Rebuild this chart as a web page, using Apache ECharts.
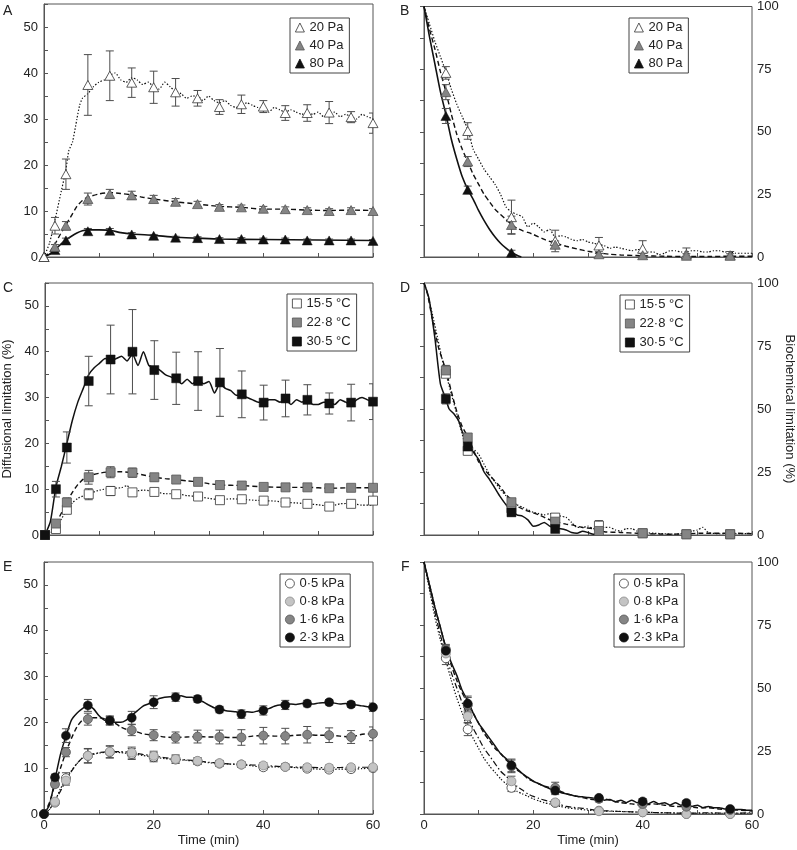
<!DOCTYPE html>
<html><head><meta charset="utf-8">
<script src="https://cdn.jsdelivr.net/npm/echarts@6/dist/echarts.min.js"></script>
<style>html,body{margin:0;padding:0;background:#fff}#c{width:797px;height:850px}</style>
</head><body><div id="c"></div><script>
const FONT = '"Liberation Sans", Arial, Helvetica, sans-serif';

// ---- sampling times (min) ----
const tLeft = [0,2,4,8,12,16,20,24,28,32,36,40,44,48,52,56,60];
const tRight = [4,8,16,24,32,40,48,56];

// ---- Panel A: diffusional limitation, CO2 ----
const a20 = [0,6.8,18.0,37.4,39.4,37.9,36.9,35.8,34.5,32.6,33.2,32.7,31.3,31.3,31.4,30.4,29.1];
const a20Err = [0,1.8,3.3,6.6,5.4,3.2,3.5,3.0,1.7,1.6,2.0,1.3,1.6,1.8,2.4,1.2,2.2];
const a40 = [0,2.2,6.8,12.6,13.7,13.4,12.6,12.0,11.5,10.9,10.8,10.5,10.4,10.2,10.0,10.2,10.0];
const a40Err = [0,0.5,0.9,1.3,1.0,0.9,0.8,0.7,0.6,0.5,0.5,0.5,0.5,0.5,0.5,0.5,0.5];
const a80 = [0,1.5,3.6,5.6,5.7,4.9,4.6,4.2,4.1,3.9,3.9,3.8,3.8,3.6,3.6,3.6,3.5];
const a80Err = [0,0.3,0.5,0.6,0.5,0.4,0.3,0.3,0.3,0.3,0.3,0.3,0.3,0.3,0.3,0.3,0.3];
const a20Line = [[0,0],[1,3],[2,8],[3,13.5],[4,19],[4.5,23],[5.2,25],[6,30],[6.5,33],[7,34.5],[8,35.5],[9,37],[10,38],[11,38.5],[12,39.5],[13,40],[14,38.5],[15,38],[16,39],[17,38.5],[18,37.5],[19,38],[20,37],[21,36.5],[22,38],[23,37],[24,36],[25,35.5],[26,34.5],[27,35],[28,35],[29,34],[30,35],[31,34],[32,33.5],[33,34],[34,33],[35,32.5],[36,33],[37,33.5],[38,33],[39,32.5],[40,32.5],[41,31.5],[42,32.5],[43,32],[44,31.5],[45,32],[46,31.5],[47,31],[48,31.5],[49,31],[50,31.5],[51,30.5],[52,31],[53,31.5],[54,30.5],[55,31],[56,30.5],[57,30],[58,31],[59,30.5],[60,30]];
const a40Line = [[0,0],[1,1],[2,2.8],[3,5],[4,7],[5,9],[6,11],[7,12.3],[8,13],[10,13.7],[12,14],[14,13.8],[16,13.5],[18,13],[20,12.6],[24,12],[28,11.5],[32,11],[36,10.8],[40,10.4],[44,10.4],[48,10.2],[52,10.1],[56,10.2],[60,10.1]];
const a80Line = [[0,0],[1,0.6],[2,1.6],[3,2.7],[4,3.7],[5,4.5],[6,5.2],[7,5.7],[8,5.9],[10,5.9],[12,5.8],[14,5.3],[16,5],[20,4.7],[24,4.3],[28,4.1],[32,3.9],[40,3.8],[50,3.7],[60,3.6]];

// ---- Panel B: biochemical limitation, CO2 ----
const b20 = [73.5,50.3,15.9,6.4,4.6,3.3,1.1,0.7];
const b20Err = [2.5,3.3,6.8,4.3,3.2,3.2,2.5,1.5];
const b40 = [65.8,38.1,12.8,4.9,1.1,0.7,0.5,0.5];
const b40Err = [3,2,3.5,1.5,1,0.8,0.8,0.8];
const b80 = [56.3,26.8,1.7,null,null,null,null,null];
const b80Err = [3,1.5,1,0,0,0,0,0];
const b20Line = [[0,100],[1,93],[2,86],[3,80],[4,74],[5,67],[6,61],[7,56],[8,51],[9,43],[10,39],[11,35],[12,32],[13,29],[14,25],[15,20],[16,18],[17,17],[18,16],[19,12],[20,13.5],[21,12],[22,10],[23,11],[24,8],[25,8.5],[26,8],[27,7],[28,6.5],[29,7],[30,6],[31,5.5],[32,5],[33,4.5],[34,3.5],[35,4],[36,3.5],[37,3],[38,2.5],[39,3],[40,3],[41,2],[42,2],[43,1],[44,1.5],[45,2.5],[46,2.5],[47,2],[48,2],[49,2.5],[50,2.5],[51,2],[52,2],[53,2.5],[54,2.5],[55,2],[56,2],[57,1.5],[58,1.5],[59,1.5],[60,1.5]];
const b40Line = [[0,100],[1,91],[2,83],[3,74],[4,66],[5,57],[6,49],[7,43],[8,38],[9,33],[10,29],[11,25],[12,22],[13,19],[14,17],[15,15],[16,13],[17,11.5],[18,10.5],[19,9.8],[20,9],[22,7],[24,5.5],[26,4.3],[28,3.2],[30,2.3],[32,1.6],[34,1.1],[36,0.8],[40,0.5],[44,0.3],[48,0.2],[52,0.2],[56,0.3],[60,0.3]];
const b80Line = [[0,100],[1,88],[2,77],[3,66],[4,57],[5,47],[6,39],[7,32],[8,27],[9,23],[10,18.5],[11,14.5],[12,11],[13,8],[14,5.5],[15,3.5],[16,1.8],[17,0.7],[17.8,0]];

// ---- Panel C: diffusional limitation, temperature ----
const c15 = [0,1.3,5.5,8.9,9.6,9.3,9.4,8.9,8.4,7.6,7.8,7.5,7.1,6.8,6.2,6.8,7.5];
const c15Err = [0,0.5,0.8,1.2,1.0,0.8,0.8,0.7,0.6,0.5,0.5,0.5,0.5,0.5,0.5,0.5,0.5];
const c22 = [0,2.5,7.1,12.6,13.7,13.6,12.6,12.1,11.6,10.9,10.8,10.5,10.4,10.4,10.2,10.3,10.3];
const c22Err = [0,0.6,1.0,1.5,1.2,1.0,0.8,0.7,0.6,0.5,0.5,0.5,0.5,0.5,0.5,0.5,0.5];
const c30 = [0,10.0,19.1,33.6,38.3,40.0,36.0,34.2,33.6,33.3,30.7,28.9,29.8,29.5,28.7,28.9,29.1];
const c30Err = [0,1.7,3.4,5.4,7.5,9.2,6.4,5.7,6.4,7.4,5.1,3.8,4.0,3.3,2.3,4.0,3.9];
const c30Line = [[0,0],[1,3],[2,10.5],[3,15],[4,20],[5,25],[6,29],[7,32],[8,35],[9,36.5],[10,37.5],[11,38.5],[12,38],[13,38.5],[14,39],[15,38],[16,39.5],[17,37],[18,40],[19,37],[20,36.5],[21,36],[22,35],[23,34.5],[24,34],[25,33],[26,34],[27,33],[28,34],[29,33],[30,33.5],[31,31],[32,33],[33,32],[34,31.5],[35,30.5],[36,30.5],[37,30],[38,29.5],[39,29],[40,29],[41,29.5],[42,29.5],[43,29],[44,29.5],[45,28.5],[46,29.5],[47,29],[48,29.5],[49,28.5],[50,28.5],[51,29],[52,29],[53,28.5],[54,29.5],[55,29],[56,28.5],[57,29.5],[58,30],[59,29.5],[60,29]];
const c22Line = [[0,0],[1,0.8],[2,2.5],[3,4.8],[4,7.2],[5,9.3],[6,11],[7,12.2],[8,12.9],[10,13.5],[12,13.8],[14,13.8],[16,13.6],[18,13.1],[20,12.6],[22,12.3],[24,12.1],[26,11.8],[28,11.6],[30,11.2],[32,10.9],[36,10.8],[40,10.5],[44,10.4],[48,10.4],[52,10.2],[56,10.3],[60,10.3]];
const c15Line = [[0,0],[1,0.5],[2,1.5],[3,3.5],[4,5.5],[5,7],[6,8],[8,9],[10,9.8],[12,10.2],[14,10.3],[15,10.8],[16,9.5],[18,9.8],[20,9.5],[22,9],[24,9],[26,8.6],[28,8.4],[30,8],[32,7.7],[34,7.9],[36,7.8],[38,7.6],[40,7.5],[42,7.4],[44,7.1],[46,7],[48,6.8],[50,6.6],[52,6.3],[54,6.8],[56,6.9],[58,6.5],[60,6.5]];

// ---- Panel D: biochemical limitation, temperature ----
const d15 = [64,33.4,10.6,6.9,3.7,0.7,0.3,0.3];
const d15Err = [1.5,1.5,1.5,1.5,2,0.5,0.5,0.5];
const d22 = [65.3,38.7,13.0,5.3,1.6,0.7,0.3,0.3];
const d22Err = [2,1.5,1.5,1.2,1,1,0.8,1.5];
const d30 = [54.0,35.1,9.0,2.4,null,null,null,null];
const d30Err = [2,2,1.5,1,0,0,0,0];
const d30Line = [[0,100],[0.9,94],[2,78],[3,60],[4,54],[4.6,50],[5.5,48],[6.4,45],[7,41],[8,37],[9,33],[10,30],[11,25],[12,22],[13,18.5],[14,15],[15,12],[16,10],[17,8],[18,7.5],[19,6],[20,3.5],[21,4],[22,5],[23,3.5],[24,2.6],[25,2.5],[26,2],[27,1],[28,0.7],[29,1.5],[30,1],[31,0.3],[32,0.3]];
const d22Line = [[0,100],[0.5,97],[1.5,86],[2.7,74],[4,65.5],[5,57],[6,49],[7,43],[8,39],[9,34],[10,29],[11,26],[12.5,22.5],[14,19],[15,16],[16,14],[17.4,11],[19,9.5],[21,8],[22.5,6.5],[24,5.3],[26,4.3],[27,4],[29,3],[31,2.5],[33,1.3],[36,1],[39,0.7],[45,0.3],[51,0.7],[57,0.7],[60,0.5]];
const d15Line = [[0,100],[0.5,97],[1.5,88],[2.5,78],[3.5,68],[4,64],[5,56],[6,48],[7,40],[8,33],[9,34],[10,32],[11,28],[12,24],[13,21],[14,18],[15,15.5],[16,13],[17,12],[18,11],[19,10],[20,9],[21,8.5],[22,8],[23,8.5],[24,8],[25,7.5],[26,7],[27,5],[28,3],[29,3],[30,3.5],[31,2.5],[32,2.5],[33,3],[34,3],[35,2],[36,1.5],[37,2.5],[38,2.5],[39,1.5],[40,1],[42,0.7],[44,0.5],[46,0.3],[48,1],[49,1.5],[50,2],[51,3],[52,1],[54,0.5],[56,0.5],[58,0.5],[60,0.7]];

// ---- Panel E: diffusional limitation, VPD ----
const e05 = [0,2.5,7.8,12.7,13.5,13.1,12.4,11.9,11.5,11.0,10.8,10.2,10.3,9.9,9.7,9.8,10.0];
const e05Err = [0,0.5,1.2,1.5,1.3,1.2,1.0,0.8,0.7,0.6,0.6,0.6,0.6,0.6,0.6,0.6,0.6];
const e08 = [0,2.7,7.3,12.7,13.6,13.4,12.7,12.0,11.6,11.1,10.8,10.6,10.3,10.2,10.1,10.2,10.2];
const e08Err = [0,0.5,1.0,1.6,1.3,1.2,1.0,0.9,0.7,0.6,0.6,0.6,0.6,0.6,0.6,0.6,0.6];
const e16 = [0,6.5,13.5,20.7,20.4,18.3,17.2,16.7,16.9,16.8,16.7,17.1,17.0,17.3,17.2,16.8,17.5];
const e16Err = [0,0.6,1.0,1.3,1.0,1.2,1.2,1.2,1.4,1.5,1.7,1.8,1.7,1.8,1.6,1.4,1.5];
const e23 = [0,8.0,17.1,23.7,20.4,21.0,24.4,25.5,25.1,22.8,21.8,22.6,23.8,24.1,24.4,23.9,23.3];
const e23Err = [0,0.7,1.5,1.3,0.9,1.4,1.4,0.9,0.7,0.7,0.9,1.0,1.0,0.7,0.6,0.6,0.9];
const e23Line = [[0,0],[1,2],[2,7.5],[3,13],[4,17],[5,20.5],[6,22],[7,23],[8,23.7],[9,23],[10,21.5],[11,20.5],[12,20.3],[13,20],[14,20],[15,20.5],[16,21.5],[17,22.5],[18,23.5],[19,24],[20,24.5],[21,25.2],[22,25.5],[23,25.6],[24,25.6],[25,25.8],[26,25.5],[27,25.5],[28,25],[29,24.5],[30,23.8],[31,23.2],[32,23],[33,22.6],[34,22.4],[35,22.3],[36,22],[37,22.3],[38,22.2],[39,22.5],[40,22.7],[41,23],[42,23.5],[43,23.8],[44,23.8],[45,24],[46,23.9],[47,24.1],[48,24.1],[49,24],[50,24.2],[51,24.3],[52,24.4],[53,24.2],[54,24],[55,24.1],[56,23.9],[57,23.8],[58,23.6],[59,23.4],[60,23.3]];
const e16Line = [[0,0],[1,2.5],[2,6.5],[3,10],[4,13.5],[5,16.5],[6,19],[7,20.5],[8,20.9],[9,21],[10,21],[11,20.8],[12,20.4],[13,19.8],[14,19],[15,18.5],[16,18.3],[18,17.5],[20,17.2],[22,16.8],[24,16.7],[26,16.8],[28,16.9],[30,16.8],[32,16.8],[34,16.7],[36,16.7],[38,17],[40,17.1],[42,17],[44,17],[46,17.2],[48,17.3],[50,17.2],[52,17.2],[54,17],[56,16.8],[58,17.4],[60,17.5]];
const e08Line = [[0,0],[1,1],[2,3],[3,5],[4,7.3],[5,9.3],[6,11],[7,12.2],[8,12.8],[10,13.4],[12,13.6],[14,13.6],[16,13.4],[18,13],[20,12.7],[22,12.3],[24,12],[26,11.8],[28,11.6],[30,11.3],[32,11.1],[34,10.9],[36,10.8],[38,10.7],[40,10.6],[44,10.3],[48,10.2],[52,10.1],[56,10.2],[60,10.2]];
const e05Line = [[0,0],[1,1],[2,2.8],[3,5.5],[4,7.6],[5,9.5],[6,11],[7,12.2],[8,12.7],[10,13.3],[12,13.5],[14,13.4],[16,13.1],[18,12.8],[20,12.4],[22,12.1],[24,11.9],[26,11.7],[28,11.5],[30,11.2],[32,11],[34,10.9],[36,10.8],[38,10.5],[40,10.2],[42,10.3],[44,10.3],[46,10.1],[48,9.9],[50,9.8],[52,9.7],[54,9.8],[56,9.8],[58,9.9],[60,10]];

// ---- Panel F: biochemical limitation, VPD ----
const f05 = [61.8,33.6,10.4,4.4,1.3,0.7,0,0];
const f05Err = [2.5,2.5,1.5,0.8,0.5,0.5,0.5,0.5];
const f08 = [63.7,38.8,13.0,4.6,1.1,0.7,0,0];
const f08Err = [2,2.5,2,1,0.6,0.5,0.5,0.5];
const f16 = [65.3,43.2,18.9,10.4,6.0,4.0,2.9,1.6];
const f16Err = [2,3,2.5,2.2,1.2,1.2,1,0.8];
const f23 = [64.8,43.8,19.3,9.3,6.4,5.0,4.4,2.0];
const f23Err = [2,3,2.5,1.6,1,1,1,0.8];
const f23Line = [[0,100],[1,91],[2,82],[3,74],[4,66],[5,60],[6,55],[7,49],[8,45],[9,40],[10,36],[11,33],[12,30],[13,27],[14,24],[15,22],[16,20],[17,18],[18,16],[19,14.5],[20,13],[21,12],[22,11],[23,10],[24,9.5],[25,8.5],[26,8],[27,7.5],[28,7],[29,6.8],[30,6.5],[31,6.3],[32,6],[33,5.5],[34,5.8],[35,4.8],[36,5.5],[37,4.5],[38,5.5],[39,4.5],[40,5],[41,4],[42,5],[43,4],[44,4.5],[45,3.5],[46,4.5],[47,3.5],[48,4],[49,3],[50,3.5],[51,2.5],[52,3],[53,2.5],[54,2.5],[55,2],[56,2],[57,1.8],[58,1.8],[59,1.5],[60,1.5]];
const f16Line = [[0,100],[1,91],[2,82],[3,74],[4,66],[5,59],[6,53],[7,48],[8,44],[9,40],[10,36],[11,32],[12,29],[13,26],[14,24],[15,21.5],[16,19.5],[17,17.5],[18,16],[19,14],[20,13],[21,12],[22,11],[23,10.5],[24,10],[25,9],[26,8],[27,7.5],[28,7],[29,6.5],[30,6],[32,5.5],[33,6],[34,5.5],[36,4.5],[38,4],[40,3.5],[42,4],[44,3.5],[46,3],[48,3],[50,2.5],[52,2.5],[54,2],[56,1.7],[58,1.5],[60,1.2]];
const f08Line = [[0,100],[1,90],[2,80],[3,71],[4,63],[5,56],[6,50],[7,44],[8,39],[9,34],[10,30],[11,26],[12,23],[13,20],[14,17],[15,15],[16,13],[17,11],[18,9.5],[19,8],[20,7],[21,6.2],[22,5.5],[23,5],[24,4.5],[25,3.7],[26,3],[28,2.5],[30,2],[32,1.3],[34,1.2],[36,1],[40,0.7],[44,0.5],[48,0.3],[52,0.5],[56,0.3],[60,0.5]];
const f05Line = [[0,100],[1,89],[2,78],[3,69],[4,61],[5,53],[6,46],[7,40],[8,34],[9,30],[10,26],[11,22],[12,19],[13,16.5],[14,14],[15,12],[16,10.5],[17,9],[18,8],[19,7],[20,6],[21,5.2],[22,4.5],[23,4],[24,3.5],[25,3],[26,2.5],[28,2],[30,1.5],[32,1.2],[36,1],[40,0.7],[44,0.5],[48,0.3],[52,0.3],[56,0.3],[60,0.3]];

// ---- names ----
const namesCO2 = ['20 Pa','40 Pa','80 Pa'];
const namesTemp = ['15·5 °C','22·8 °C','30·5 °C'];
const namesVPD = ['0·5 kPa','0·8 kPa','1·6 kPa','2·3 kPa'];

// ---- styles ----
const DOT = [1.4,1.8], DASH = [5,3], DASHDOT = [6,2.5,1.5,2.5], SOLID = 'solid';
const sWhite = {color:'#ffffff', borderColor:'#333', borderWidth:0.8, opacity:1};
const sGray = {color:'#858585', borderColor:'#555', borderWidth:0.8, opacity:1};
const sLight = {color:'#c4c4c4', borderColor:'#8a8a8a', borderWidth:0.8, opacity:1};
const sBlack = {color:'#111111', borderColor:'#111111', borderWidth:0.5, opacity:1};
const AXC = '#555';

const series = [];
function addLine(p, data, type, width){
  series.push({type:'line', xAxisIndex:p, yAxisIndex:p, data, showSymbol:false, symbol:'none',
    smooth:0.2, lineStyle:{color:'#111', width, type}, z:2, silent:true, animation:false});
}
function addErr(p, times, vals, errs){
  const data = [];
  times.forEach((t,i)=>{ if(vals[i]!=null && errs[i]>0) data.push([t, vals[i], errs[i]]); });
  series.push({type:'custom', xAxisIndex:p, yAxisIndex:p, data, clip:true, z:3, silent:true, animation:false,
    renderItem:(params, api)=>{
      const x=api.value(0), y=api.value(1), e=api.value(2);
      const hi=api.coord([x,y+e]), lo=api.coord([x,y-e]);
      const w=4, st={stroke:'#4d4d4d', lineWidth:1};
      return {type:'group', children:[
        {type:'line', shape:{x1:hi[0],y1:hi[1],x2:lo[0],y2:lo[1]}, style:st},
        {type:'line', shape:{x1:hi[0]-w,y1:hi[1],x2:hi[0]+w,y2:hi[1]}, style:st},
        {type:'line', shape:{x1:lo[0]-w,y1:lo[1],x2:lo[0]+w,y2:lo[1]}, style:st}
      ]};
    }});
}
function addMarks(p, name, times, vals, symbol, size, style){
  const data = [];
  times.forEach((t,i)=>{ if(vals[i]!=null) data.push([t, vals[i]]); });
  series.push({type:'scatter', name, xAxisIndex:p, yAxisIndex:p, data, symbol, symbolSize:size,
    itemStyle:style, z:4, animation:false});
}

// Panel A (0)
addLine(0, a20Line, DOT, 1.2); addLine(0, a40Line, DASH, 1.4); addLine(0, a80Line, SOLID, 1.6);
addErr(0, tLeft, a20, a20Err); addErr(0, tLeft, a40, a40Err); addErr(0, tLeft, a80, a80Err);
addMarks(0, namesCO2[2], tLeft, a80, 'triangle', [10,9], sBlack);
addMarks(0, namesCO2[1], tLeft, a40, 'triangle', [10,9], sGray);
addMarks(0, namesCO2[0], tLeft, a20, 'triangle', [10,9], sWhite);
// Panel B (1)
addLine(1, b20Line, DOT, 1.2); addLine(1, b40Line, DASH, 1.4); addLine(1, b80Line, SOLID, 1.6);
addErr(1, tRight, b20, b20Err); addErr(1, tRight, b40, b40Err); addErr(1, tRight, b80, b80Err);
addMarks(1, namesCO2[0], tRight, b20, 'triangle', [10,9], sWhite);
addMarks(1, namesCO2[1], tRight, b40, 'triangle', [10,9], sGray);
addMarks(1, namesCO2[2], tRight, b80, 'triangle', [10,9], sBlack);
// Panel C (2)
addLine(2, c15Line, DOT, 1.2); addLine(2, c22Line, DASH, 1.4); addLine(2, c30Line, SOLID, 1.5);
addErr(2, tLeft, c15, c15Err); addErr(2, tLeft, c22, c22Err); addErr(2, tLeft, c30, c30Err);
addMarks(2, namesTemp[0], tLeft, c15, 'rect', 9, sWhite);
addMarks(2, namesTemp[1], tLeft, c22, 'rect', 9, sGray);
addMarks(2, namesTemp[2], tLeft, c30, 'rect', 9, sBlack);
// Panel D (3)
addLine(3, d15Line, DOT, 1.2); addLine(3, d22Line, DASH, 1.4); addLine(3, d30Line, SOLID, 1.5);
addErr(3, tRight, d15, d15Err); addErr(3, tRight, d22, d22Err); addErr(3, tRight, d30, d30Err);
addMarks(3, namesTemp[0], tRight, d15, 'rect', 9, sWhite);
addMarks(3, namesTemp[1], tRight, d22, 'rect', 9, sGray);
addMarks(3, namesTemp[2], tRight, d30, 'rect', 9, sBlack);
// Panel E (4)
addLine(4, e05Line, DOT, 1.2); addLine(4, e08Line, DASHDOT, 1.2); addLine(4, e16Line, DASH, 1.4); addLine(4, e23Line, SOLID, 1.5);
addErr(4, tLeft, e05, e05Err); addErr(4, tLeft, e08, e08Err); addErr(4, tLeft, e16, e16Err); addErr(4, tLeft, e23, e23Err);
addMarks(4, namesVPD[0], tLeft, e05, 'circle', 9, sWhite);
addMarks(4, namesVPD[1], tLeft, e08, 'circle', 9, sLight);
addMarks(4, namesVPD[2], tLeft, e16, 'circle', 9, sGray);
addMarks(4, namesVPD[3], tLeft, e23, 'circle', 9, sBlack);
// Panel F (5)
addLine(5, f05Line, DOT, 1.2); addLine(5, f08Line, DASHDOT, 1.2); addLine(5, f16Line, DASH, 1.4); addLine(5, f23Line, SOLID, 1.5);
addErr(5, tRight, f05, f05Err); addErr(5, tRight, f08, f08Err); addErr(5, tRight, f16, f16Err); addErr(5, tRight, f23, f23Err);
addMarks(5, namesVPD[0], tRight, f05, 'circle', 9, sWhite);
addMarks(5, namesVPD[1], tRight, f08, 'circle', 9, sLight);
addMarks(5, namesVPD[2], tRight, f16, 'circle', 9, sGray);
addMarks(5, namesVPD[3], tRight, f23, 'circle', 9, sBlack);

const gridBoxes = [
  {left:44, top:4, width:329, height:253},
  {left:424, top:4, width:328, height:253},
  {left:44, top:283, width:329, height:252},
  {left:424, top:283, width:328, height:252},
  {left:44, top:562, width:329, height:252},
  {left:424, top:562, width:328, height:252}
];
const grid = gridBoxes.map(g=>Object.assign({show:true, borderColor:AXC, borderWidth:1, backgroundColor:'transparent'}, g));

const lbl = {fontFamily:FONT, fontSize:13, color:'#222'};
const xAxis = gridBoxes.map((g,i)=>({
  gridIndex:i, type:'value', min:0, max:60, interval:10,
  axisLine:{lineStyle:{color:AXC, width:1}},
  axisTick:{inside:true, length:4, lineStyle:{color:AXC}},
  splitLine:{show:false},
  axisLabel:Object.assign({show:i>=4, margin:5, formatter:v=>(v%20===0?String(v):'')}, lbl),
  name: i>=4 ? 'Time (min)' : '', nameLocation:'middle', nameGap:20,
  nameTextStyle:Object.assign({}, lbl)
}));
const yAxis = gridBoxes.map((g,i)=>{
  const right = i%2===1;
  return {
    gridIndex:i, type:'value', min:0, max: right?100:55, interval: right?12.5:5,
    position: right?'right':'left',
    axisLine:{lineStyle:{color:AXC, width:1}},
    axisTick:{inside:true, length:4, lineStyle:{color:AXC}},
    splitLine:{show:false},
    axisLabel:Object.assign({margin: right?5:6, formatter: v=> right ? (v%25===0?String(v):'') : (v%10===0?String(v):'')}, lbl),
    name: i===2 ? 'Diffusional limitation (%)' : (i===3 ? 'Biochemical limitation (%)' : ''),
    nameLocation:'middle', nameGap:31, nameRotate: right ? -90 : 90,
    nameTextStyle:Object.assign({}, lbl)
  };
});

function mkLegend(left, top, names, gap){
  return {left, top, orient:'vertical', data:names, itemWidth:9, itemHeight:9, itemGap:gap,
    itemTextGap:5, padding:[3,6,3,5], borderColor:'#444', borderWidth:1, backgroundColor:'#fff',
    selectedMode:false, itemStyle:{borderWidth:0.8, opacity:1},
    textStyle:Object.assign({}, lbl, {fontSize:13})};
}
const legend = [
  mkLegend(290, 18, namesCO2, 5),
  mkLegend(629, 18, namesCO2, 5),
  mkLegend(287, 294, namesTemp, 6),
  mkLegend(620, 295, namesTemp, 6),
  mkLegend(280, 574, namesVPD, 5),
  mkLegend(614, 574, namesVPD, 5)
];

const letters = [['A',3,4],['B',400,4],['C',3,281],['D',400,281],['E',3,560],['F',401,560]];
const graphic = letters.map(([t,x,y])=>({type:'text', left:x, top:y,
  style:{text:t, font:'14px '+FONT, fill:'#222'}}));

const chart = echarts.init(document.getElementById('c'), null, {renderer:'canvas'});
chart.setOption({animation:false, backgroundColor:'#fff', grid, xAxis, yAxis, legend, series, graphic});
</script></body></html>
